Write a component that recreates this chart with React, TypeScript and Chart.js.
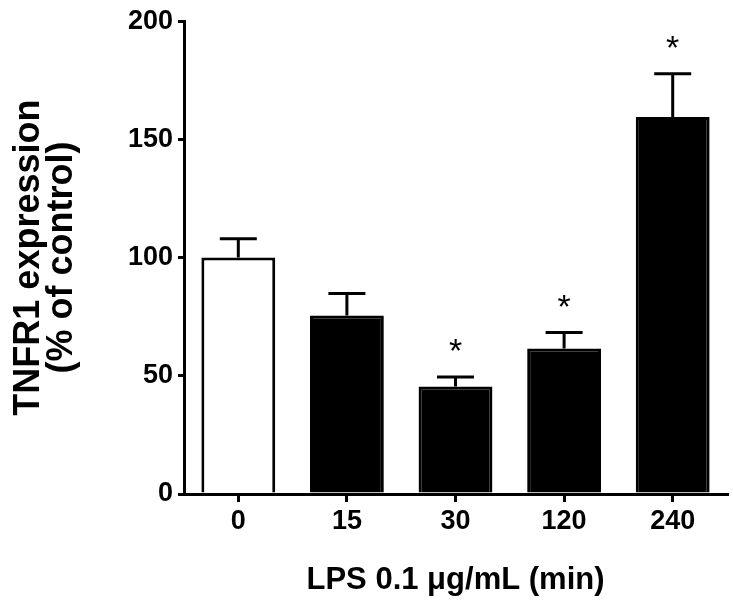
import React, { useEffect, useRef } from "react";
import { Chart, registerables } from "chart.js";

Chart.register(...registerables);

const categories = ["0", "15", "30", "120", "240"];
const means = [100, 75.5, 45.5, 61.5, 159.5];
const errors = [8, 9.3, 4, 6.8, 18.3];
const significant = [false, false, true, true, true];
const barFills = ["#ffffff", "#000000", "#000000", "#000000", "#000000"];
const yTitle = ["TNFR1 expression", "(% of control)"];
const xTitle = "LPS 0.1 \u03bcg/mL (min)";

const FONT = "'Liberation Sans', Arial, sans-serif";

const errorBarPlugin = {
  id: "errorBars",
  afterDatasetsDraw(chart: any) {
    const { ctx, scales } = chart;
    const xs = scales.x;
    const ys = scales.y;
    ctx.save();
    ctx.strokeStyle = "#000";
    ctx.lineWidth = 3;
    ctx.fillStyle = "#000";
    means.forEach((m, i) => {
      const x = xs.getPixelForValue(i);
      const yTop = ys.getPixelForValue(m);
      const yErr = ys.getPixelForValue(m + errors[i]);
      ctx.beginPath();
      ctx.moveTo(x, yTop);
      ctx.lineTo(x, yErr);
      ctx.moveTo(x - 18.5, yErr);
      ctx.lineTo(x + 18.5, yErr);
      ctx.stroke();
      if (significant[i]) {
        ctx.font = `34px ${FONT}`;
        ctx.textAlign = "center";
        ctx.textBaseline = "alphabetic";
        ctx.fillText("*", x, yErr - 15);
      }
    });
    ctx.restore();
  },
};

export default function App() {
  const ref = useRef<HTMLCanvasElement | null>(null);
  useEffect(() => {
    document.body.style.margin = "0";
    const canvas = ref.current!;
    const chart = new Chart(canvas, {
      type: "bar",
      data: {
        labels: categories,
        datasets: [
          {
            data: means,
            backgroundColor: barFills,
            borderColor: "#000",
            borderWidth: 3,
            borderSkipped: "bottom",
            barPercentage: 0.68,
            categoryPercentage: 1,
          },
        ],
      },
      options: {
        responsive: false,
        animation: false,
        devicePixelRatio: 1,
        layout: { padding: { top: 16, right: 6, left: 0, bottom: 0 } },
        plugins: { legend: { display: false }, tooltip: { enabled: false } },
        scales: {
          x: {
            grid: {
              display: true,
              offset: false,
              drawOnChartArea: false,
              drawTicks: true,
              tickLength: 8,
              color: "#000",
              lineWidth: 3,
            },
            border: { display: true, color: "#000", width: 3 },
            ticks: {
              color: "#000",
              padding: 3,
              font: { family: FONT, size: 27, weight: "bold" },
            },
            title: {
              display: true,
              text: xTitle,
              color: "#000",
              padding: { top: 0, bottom: 12 },
              font: { family: FONT, size: 31, weight: "bold", lineHeight: 1.2 },
            },
            afterFit(scale: any) {
              scale.height = 611 - 494;
            },
          },
          y: {
            min: 0,
            max: 200,
            ticks: {
              stepSize: 50,
              color: "#000",
              padding: 5,
              font: { family: FONT, size: 27, weight: "bold" },
            },
            grid: {
              display: true,
              drawOnChartArea: false,
              drawTicks: true,
              tickLength: 6,
              color: "#000",
              lineWidth: 3,
            },
            border: { display: true, color: "#000", width: 3 },
            title: {
              display: true,
              text: yTitle,
              color: "#000",
              padding: { top: 12.5, bottom: 0 },
              font: { family: FONT, size: 36, weight: "bold", lineHeight: 0.92 },
            },
            afterFit(scale: any) {
              scale.width = 184;
            },
          },
        },
      },
      plugins: [errorBarPlugin],
    });
    return () => chart.destroy();
  }, []);
  return <canvas ref={ref} width={733} height={611} style={{ display: "block" }} />;
}
